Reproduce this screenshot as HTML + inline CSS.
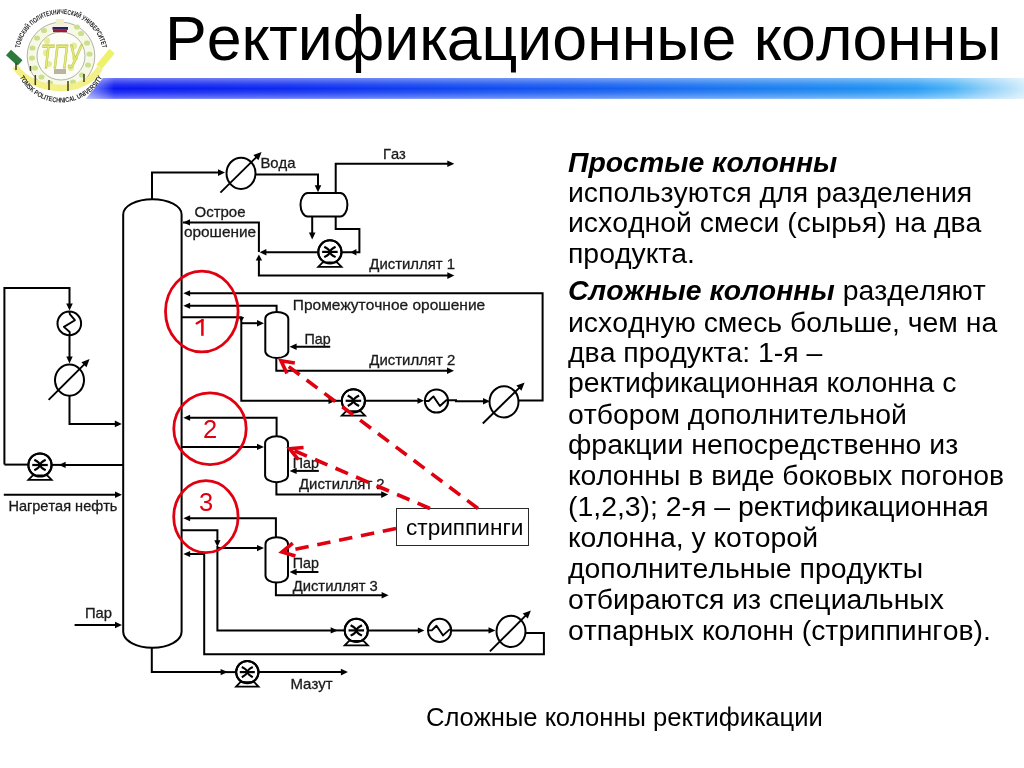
<!DOCTYPE html>
<html lang="ru"><head><meta charset="utf-8"><title>Ректификационные колонны</title>
<style>
html,body{margin:0;padding:0;background:#fff;}
body{width:1024px;height:768px;position:relative;overflow:hidden;font-family:"Liberation Sans",sans-serif;color:#000;font-kerning:none;}
.abs{position:absolute;will-change:transform;}
.logo{position:absolute;left:0;top:0;will-change:transform;}
.bar{position:absolute;left:86px;top:78px;width:938px;height:20.8px;
 background:linear-gradient(to right,#1a2cf2 0px,#0a18f0 30px,#0c2af0 200px,#1048f0 380px,#145ef0 520px,#1a78f0 650px,#1e8ef2 780px,#2c9cf4 830px,#4cb2f6 866px,#8ccef8 900px,#d0ecfa 938px);
 clip-path:polygon(17px 0,100% 0,100% 100%,0 100%);}
.bar:after{content:"";position:absolute;left:0;top:0;right:0;bottom:0;
 background:linear-gradient(to bottom,rgba(255,255,255,.42) 0%,rgba(255,255,255,.12) 30%,rgba(255,255,255,0) 50%,rgba(255,255,255,.12) 70%,rgba(255,255,255,.42) 100%);}
.barfade{position:absolute;left:86px;top:78px;width:28px;height:20.8px;background:linear-gradient(to right,rgba(255,255,255,.5),rgba(255,255,255,0));}
.title{position:absolute;will-change:transform;left:164.7px;top:6.67px;font-size:62.65px;line-height:1;white-space:nowrap;}
.rl{position:absolute;will-change:transform;left:568.0px;font-size:28.4px;line-height:1;white-space:nowrap;}
.cap{position:absolute;will-change:transform;left:425.8px;top:704.93px;font-size:25.6px;line-height:1;white-space:nowrap;}
.sbox{position:absolute;left:395.6px;top:507.9px;width:131.4px;height:36.1px;border:1.3px solid #2a2a2a;background:#fff;box-sizing:content-box;}
.stxt{position:absolute;will-change:transform;left:406.3px;top:517.47px;font-size:22.6px;line-height:1;white-space:nowrap;}
.dg{position:absolute;will-change:transform;font-size:25.5px;line-height:1;color:#e0000f;}
svg text{font-family:"Liberation Sans",sans-serif;}
</style></head>
<body>
<div class="bar"></div><div class="barfade"></div>

<svg class="logo" width="125" height="110" viewBox="0 0 125 110">
  <defs>
    <path id="arcTop" d="M 19,56 A 42,42 0 0 1 103,56"/>
    <path id="arcBot" d="M 14.5,56 A 46.5,46.5 0 0 0 107.5,56"/>
    <radialGradient id="lg" cx="50%" cy="50%" r="50%"><stop offset="0" stop-color="#fcfdf2"/><stop offset="1" stop-color="#f6f8e4"/></radialGradient>
  </defs>
  <!-- ribbon ends -->
  <path d="M 8.5,52.5 L 20,63" stroke="#2e7a3c" stroke-width="7.5" fill="none"/>
  <path d="M 99,67 L 112,51" stroke="#eef26a" stroke-width="7" fill="none"/>
  <circle cx="61" cy="56" r="33.8" fill="url(#lg)" stroke="#a0a098" stroke-width="0.8"/>
  <g fill="#cbe08a">
    <ellipse cx="32.5" cy="48" rx="3" ry="2.6"/><ellipse cx="32" cy="58" rx="3" ry="2.6"/>
    <ellipse cx="35" cy="68" rx="3" ry="2.6"/><ellipse cx="41.5" cy="77" rx="3" ry="2.6"/>
    <ellipse cx="50" cy="83" rx="3" ry="2.6"/><ellipse cx="73" cy="82" rx="3" ry="2.6"/>
    <ellipse cx="82" cy="75" rx="3" ry="2.6"/><ellipse cx="88" cy="65" rx="3" ry="2.6"/>
    <ellipse cx="89.5" cy="54" rx="3" ry="2.6"/><ellipse cx="87" cy="43" rx="3" ry="2.6"/>
    <ellipse cx="81" cy="33.5" rx="3" ry="2.6"/><ellipse cx="37" cy="38" rx="3" ry="2.6"/>
    <ellipse cx="44" cy="30.5" rx="3" ry="2.6"/><ellipse cx="77" cy="27" rx="3" ry="2.6"/>
  </g>
  <circle cx="61" cy="56" r="24" fill="#fdfdf7" stroke="#a0a098" stroke-width="0.8"/>
  <g fill="#e4ec8c" opacity="0.9">
    <ellipse cx="47" cy="41" rx="3" ry="3.4"/><ellipse cx="46" cy="53" rx="3" ry="3.4"/>
    <ellipse cx="49" cy="64" rx="3" ry="3"/><ellipse cx="74" cy="46" rx="3" ry="3.4"/>
    <ellipse cx="75" cy="58" rx="3" ry="3"/><ellipse cx="71" cy="68" rx="3" ry="3"/>
  </g>
  <!-- monogram -->
  <g transform="translate(61 68) scale(0.62 1)">
    <text x="0" y="0" font-family="Liberation Serif" font-style="italic" font-size="33" text-anchor="middle" fill="#e6ec7a" stroke="#bcc456" stroke-width="0.8">ТПУ</text>
  </g>
  <!-- lower band -->
  <path d="M 15,66.5 C 24,80 42,88 61,88 C 79,88 93,80 100,68" stroke="#f3f088" stroke-width="6.5" fill="none"/>
  <g stroke="#3e3a1c" stroke-width="1.5">
    <line x1="16" y1="63" x2="16" y2="70"/><line x1="30.5" y1="66" x2="30.5" y2="71"/>
    <line x1="35.3" y1="75" x2="35.3" y2="85"/><line x1="49" y1="80" x2="49" y2="90"/>
    <line x1="68" y1="81" x2="68" y2="91"/><line x1="84" y1="74" x2="84" y2="82"/>
  </g>
  <rect x="54" y="69" width="12" height="5" fill="#6a5a30" opacity="0.45"/>
  <!-- flag -->
  <rect x="56" y="19" width="8" height="7" fill="#eef2c4"/>
  <rect x="53" y="24.5" width="14" height="2.6" fill="#f6eeee"/>
  <rect x="52.5" y="27" width="15.5" height="2.8" fill="#26265e"/>
  <rect x="53" y="29.8" width="14" height="2.3" fill="#9c1a34"/>
  <text font-family="Liberation Serif" font-size="7" fill="#1e1e1e" font-weight="bold"><textPath href="#arcTop" startOffset="50%" text-anchor="middle" textLength="116" lengthAdjust="spacingAndGlyphs">ТОМСКИЙ ПОЛИТЕХНИЧЕСКИЙ УНИВЕРСИТЕТ</textPath></text>
  <text font-family="Liberation Serif" font-size="7" fill="#1e1e1e" font-weight="bold"><textPath href="#arcBot" startOffset="50%" text-anchor="middle" textLength="102" lengthAdjust="spacingAndGlyphs">TOMSK POLITECHNICAL UNIVERSITY</textPath></text>
</svg>

<div class="title">Ректификационные колонны</div>
<svg class="abs" style="left:0;top:0" width="1024" height="768" viewBox="0 0 1024 768">
<g stroke-linecap="butt" stroke-linejoin="miter">
<polyline points="152,199 152,172.6 220,172.6" fill="none" stroke="#000" stroke-width="2.0"/>
<polygon points="225,172.6 218,175.9 218,169.3" fill="#000"/>
<polyline points="256,174.6 318,174.6 318,186" fill="none" stroke="#000" stroke-width="2.0"/>
<polygon points="318,192.2 314.7,185.2 321.3,185.2" fill="#000"/>
<polyline points="335.7,193 335.7,163.7 448,163.7" fill="none" stroke="#000" stroke-width="2.0"/>
<polygon points="454.3,163.7 447.3,167 447.3,160.4" fill="#000"/>
<polyline points="312.2,216.5 312.2,233" fill="none" stroke="#000" stroke-width="2.0"/>
<polygon points="312.2,239.4 308.9,232.4 315.5,232.4" fill="#000"/>
<polyline points="335.7,216.5 335.7,229 359.4,229 359.4,252.2 341,252.2" fill="none" stroke="#000" stroke-width="2.0"/>
<polygon points="350.4,252.2 356.4,249 356.4,255.4" fill="#000"/>
<polyline points="318,252.2 265,252.2" fill="none" stroke="#000" stroke-width="2.0"/>
<polygon points="259.6,252.2 266.4,249 266.4,255.4" fill="#000"/>
<polyline points="183,222.4 258.9,222.4 258.9,252" fill="none" stroke="#000" stroke-width="2.0"/>
<polygon points="183.2,222.4 190,219.3 190,225.5" fill="#000"/>
<polyline points="258.9,259 258.9,275.6 448,275.6" fill="none" stroke="#000" stroke-width="2.0"/>
<polygon points="258.9,254.6 262.1,260.4 255.7,260.4" fill="#000"/>
<polygon points="454.3,275.6 447.3,278.9 447.3,272.3" fill="#000"/>
<polyline points="188,293.3 542.6,293.3 542.6,400.6 518.5,400.6" fill="none" stroke="#000" stroke-width="2.0"/>
<polygon points="183.3,293.3 190.1,290.3 190.1,296.3" fill="#000"/>
<polyline points="188,305.7 276.6,305.7 276.6,312" fill="none" stroke="#000" stroke-width="2.0"/>
<polygon points="183.3,305.7 190.1,302.7 190.1,308.7" fill="#000"/>
<polyline points="182,317.2 241.3,317.2 241.3,400.8 336,400.8" fill="none" stroke="#000" stroke-width="2.0"/>
<polygon points="241.3,322 238.5,317 244.1,317" fill="#000"/>
<polygon points="335.5,400.8 328.5,404 328.5,397.6" fill="#000"/>
<polyline points="331,400.8 342,400.8" fill="none" stroke="#000" stroke-width="2.0"/>
<polyline points="241.3,323.2 258,323.2" fill="none" stroke="#000" stroke-width="2.0"/>
<polygon points="264,323.2 257,326.4 257,320" fill="#000"/>
<polyline points="330.2,346.8 295,346.8" fill="none" stroke="#000" stroke-width="2.0"/>
<polygon points="289.6,346.8 296.6,343.6 296.6,350" fill="#000"/>
<polyline points="276.3,358 276.3,370.8 448,370.8" fill="none" stroke="#000" stroke-width="2.0"/>
<polygon points="454,370.8 447,374.1 447,367.5" fill="#000"/>
<polyline points="365,400.8 418,400.8" fill="none" stroke="#000" stroke-width="2.0"/>
<polygon points="424,400.8 417.5,403.8 417.5,397.8" fill="#000"/>
<polyline points="448.5,400.2 456,400.2 456,401.2 485,401.2" fill="none" stroke="#000" stroke-width="2.0"/>
<polygon points="490,401.2 483,404.4 483,398" fill="#000"/>
<polyline points="188,417.7 276.6,417.7 276.6,436" fill="none" stroke="#000" stroke-width="2.0"/>
<polygon points="183.3,417.7 190.1,414.7 190.1,420.7" fill="#000"/>
<polyline points="182,446.9 258,446.9" fill="none" stroke="#000" stroke-width="2.0"/>
<polygon points="264,446.9 257,450.1 257,443.7" fill="#000"/>
<polyline points="318.8,470.9 295,470.9" fill="none" stroke="#000" stroke-width="2.0"/>
<polygon points="289.6,470.9 296.6,467.7 296.6,474.1" fill="#000"/>
<polyline points="276.4,482 276.4,494.6 382,494.6" fill="none" stroke="#000" stroke-width="2.0"/>
<polygon points="388.2,494.6 381.2,497.9 381.2,491.3" fill="#000"/>
<polyline points="4.4,464.6 4.4,287.9 69.5,287.9 69.5,304" fill="none" stroke="#000" stroke-width="2.0"/>
<polygon points="69.5,310.6 66.2,303.6 72.8,303.6" fill="#000"/>
<polyline points="69.5,335 69.5,357" fill="none" stroke="#000" stroke-width="2.0"/>
<polygon points="69.5,363.6 66.3,356.6 72.7,356.6" fill="#000"/>
<polyline points="69.5,395 69.5,423.9 115,423.9" fill="none" stroke="#000" stroke-width="2.0"/>
<polygon points="121.8,423.9 114.8,427.2 114.8,420.6" fill="#000"/>
<polyline points="4.4,464.6 30,464.6" fill="none" stroke="#000" stroke-width="2.0"/>
<polyline points="123,464.9 64,464.9" fill="none" stroke="#000" stroke-width="2.0"/>
<polygon points="58.8,464.9 65.6,461.7 65.6,468.1" fill="#000"/>
<polyline points="50,464.9 62,464.9" fill="none" stroke="#000" stroke-width="2.0"/>
<polyline points="3.8,494.7 115,494.7" fill="none" stroke="#000" stroke-width="2.0"/>
<polygon points="122,494.7 115,498 115,491.4" fill="#000"/>
<polyline points="74.6,625 115,625" fill="none" stroke="#000" stroke-width="2.0"/>
<polygon points="122,625 115,628.3 115,621.7" fill="#000"/>
<polyline points="188,518.3 275.9,518.3 275.9,537" fill="none" stroke="#000" stroke-width="2.0"/>
<polygon points="183.3,518.3 190.1,515.3 190.1,521.3" fill="#000"/>
<polyline points="182,530.3 217.4,530.3 217.4,541" fill="none" stroke="#000" stroke-width="2.0"/>
<polygon points="217.4,546.9 214.3,540.3 220.5,540.3" fill="#000"/>
<polyline points="217.4,546 217.4,630.4 331,630.4" fill="none" stroke="#000" stroke-width="2.0"/>
<polygon points="337.7,630.4 330.7,633.6 330.7,627.2" fill="#000"/>
<polyline points="333,630.4 345,630.4" fill="none" stroke="#000" stroke-width="2.0"/>
<polyline points="217.4,548.1 258,548.1" fill="none" stroke="#000" stroke-width="2.0"/>
<polygon points="264,548.1 257,551.3 257,544.9" fill="#000"/>
<polyline points="188,554.1 204.2,554.1 204.2,654.2 543.9,654.2 543.9,633 525,633" fill="none" stroke="#000" stroke-width="2.0"/>
<polygon points="183.3,554.1 190.1,551.1 190.1,557.1" fill="#000"/>
<polyline points="318.4,572 295,572" fill="none" stroke="#000" stroke-width="2.0"/>
<polygon points="289.6,572 296.6,568.8 296.6,575.2" fill="#000"/>
<polyline points="275.9,583 275.9,595.3 382,595.3" fill="none" stroke="#000" stroke-width="2.0"/>
<polygon points="388.6,595.3 381.6,598.6 381.6,592" fill="#000"/>
<polyline points="368,630.4 418,630.4" fill="none" stroke="#000" stroke-width="2.0"/>
<polygon points="424.4,630.4 417.9,633.4 417.9,627.4" fill="#000"/>
<polyline points="451,630.4 489,630.4" fill="none" stroke="#000" stroke-width="2.0"/>
<polygon points="495.5,630.4 488.5,633.6 488.5,627.2" fill="#000"/>
<polyline points="151.8,648 151.8,672.1 221,672.1" fill="none" stroke="#000" stroke-width="2.0"/>
<polygon points="227.6,672.1 220.6,675.3 220.6,668.9" fill="#000"/>
<polyline points="223,672.1 236,672.1" fill="none" stroke="#000" stroke-width="2.0"/>
<polyline points="258,672.1 341,672.1" fill="none" stroke="#000" stroke-width="2.0"/>
<polygon points="347.9,672.1 340.9,675.4 340.9,668.8" fill="#000"/>
<path d="M123.2,214.5 A29.2,15.3 0 0 1 181.6,214.5 V631.8 A29.2,16 0 0 1 123.2,631.8 Z" fill="#fff" stroke="#000" stroke-width="2.0"/>
<path d="M307.7,193.1 H340.2 A7.2,11.7 0 0 1 340.2,216.5 H307.7 A7.2,11.7 0 0 1 307.7,193.1 Z" fill="#fff" stroke="#000" stroke-width="2.0"/>
<ellipse cx="241" cy="173.3" rx="14.5" ry="15.6" fill="#fff" stroke="#000" stroke-width="2.0"/>
<polyline points="220.4,192.6 257.04,156.49" fill="none" stroke="#000" stroke-width="1.9"/>
<polygon points="261.6,152 258.43,160.18 253.37,155.05" fill="#000"/>
<circle cx="329.9" cy="251.9" r="11.6" fill="#fff" stroke="#000" stroke-width="2.0"/>
<polyline points="322.13,251.9 337.67,251.9" fill="none" stroke="#000" stroke-width="2.2"/>
<path d="M324.22,246.68 Q335.02,251.9 324.22,257.12 M335.58,246.68 Q324.78,251.9 335.58,257.12" fill="none" stroke="#000" stroke-width="2.2"/>
<polygon points="322.71,262.34 337.09,262.34 341.5,266.8 318.3,266.8" fill="#fff" stroke="#000" stroke-width="1.8" stroke-linejoin="miter"/>
<circle cx="329.9" cy="251.9" r="11.6" fill="none" stroke="#000" stroke-width="2.0"/>
<path d="M265.3,318.7 A11.5,6.8 0 0 1 288.3,318.7 V351.2 A11.5,6.8 0 0 1 265.3,351.2 Z" fill="#fff" stroke="#000" stroke-width="2.0"/>
<path d="M265.1,443.1 A11.45,6.8 0 0 1 288,443.1 V475.4 A11.45,6.8 0 0 1 265.1,475.4 Z" fill="#fff" stroke="#000" stroke-width="2.0"/>
<path d="M265.5,544 A11.25,6.8 0 0 1 288,544 V575.8 A11.25,6.8 0 0 1 265.5,575.8 Z" fill="#fff" stroke="#000" stroke-width="2.0"/>
<circle cx="353.4" cy="400.8" r="11.6" fill="#fff" stroke="#000" stroke-width="2.0"/>
<polyline points="345.63,400.8 361.17,400.8" fill="none" stroke="#000" stroke-width="2.2"/>
<path d="M347.72,395.58 Q358.52,400.8 347.72,406.02 M359.08,395.58 Q348.28,400.8 359.08,406.02" fill="none" stroke="#000" stroke-width="2.2"/>
<polygon points="346.21,411.24 360.59,411.24 365,415.7 341.8,415.7" fill="#fff" stroke="#000" stroke-width="1.8" stroke-linejoin="miter"/>
<circle cx="353.4" cy="400.8" r="11.6" fill="none" stroke="#000" stroke-width="2.0"/>
<circle cx="436.5" cy="401" r="11.6" fill="#fff" stroke="#000" stroke-width="2.0"/>
<polyline points="424.9,401 428.7,401 433.4,396.4 439.9,406 446.3,400.2 448.1,400.2" fill="none" stroke="#000" stroke-width="1.9" stroke-linejoin="round"/>
<ellipse cx="504" cy="401.8" rx="14.5" ry="15.6" fill="#fff" stroke="#000" stroke-width="2.0"/>
<polyline points="482.8,423.5 520.03,387.08" fill="none" stroke="#000" stroke-width="1.9"/>
<polygon points="524.6,382.6 521.4,390.77 516.36,385.62" fill="#000"/>
<circle cx="69.3" cy="323.4" r="11.8" fill="#fff" stroke="#000" stroke-width="2.0"/>
<polyline points="69.3,311.6 70,314.4 74.9,320.2 63.9,326.9 69.7,332 69.7,335.2" fill="none" stroke="#000" stroke-width="1.9" stroke-linejoin="round"/>
<ellipse cx="69.5" cy="380.1" rx="14.5" ry="15.6" fill="#fff" stroke="#000" stroke-width="2.0"/>
<polyline points="48.6,399.8 85.06,363.61" fill="none" stroke="#000" stroke-width="1.9"/>
<polygon points="89.6,359.1 86.46,367.29 81.39,362.18" fill="#000"/>
<circle cx="40" cy="465" r="11.6" fill="#fff" stroke="#000" stroke-width="2.0"/>
<polyline points="32.23,465 47.77,465" fill="none" stroke="#000" stroke-width="2.2"/>
<path d="M34.32,459.78 Q45.12,465 34.32,470.22 M45.68,459.78 Q34.88,465 45.68,470.22" fill="none" stroke="#000" stroke-width="2.2"/>
<polygon points="32.81,475.44 47.19,475.44 51.6,479.9 28.4,479.9" fill="#fff" stroke="#000" stroke-width="1.8" stroke-linejoin="miter"/>
<circle cx="40" cy="465" r="11.6" fill="none" stroke="#000" stroke-width="2.0"/>
<circle cx="356.3" cy="630.4" r="11.6" fill="#fff" stroke="#000" stroke-width="2.0"/>
<polyline points="348.53,630.4 364.07,630.4" fill="none" stroke="#000" stroke-width="2.2"/>
<path d="M350.62,625.18 Q361.42,630.4 350.62,635.62 M361.98,625.18 Q351.18,630.4 361.98,635.62" fill="none" stroke="#000" stroke-width="2.2"/>
<polygon points="349.11,640.84 363.49,640.84 367.9,645.3 344.7,645.3" fill="#fff" stroke="#000" stroke-width="1.8" stroke-linejoin="miter"/>
<circle cx="356.3" cy="630.4" r="11.6" fill="none" stroke="#000" stroke-width="2.0"/>
<circle cx="439.6" cy="630.4" r="11.6" fill="#fff" stroke="#000" stroke-width="2.0"/>
<polyline points="428,630.4 431.8,630.4 436.5,625.8 443,635.4 449.4,629.6 451.2,629.6" fill="none" stroke="#000" stroke-width="1.9" stroke-linejoin="round"/>
<ellipse cx="511" cy="631.4" rx="14.5" ry="15.6" fill="#fff" stroke="#000" stroke-width="2.0"/>
<polyline points="489.9,651.4 526.37,614.93" fill="none" stroke="#000" stroke-width="1.9"/>
<polygon points="530.9,610.4 527.79,618.6 522.7,613.51" fill="#000"/>
<circle cx="247.3" cy="672.1" r="11.2" fill="#fff" stroke="#000" stroke-width="2.0"/>
<polyline points="239.8,672.1 254.8,672.1" fill="none" stroke="#000" stroke-width="2.2"/>
<path d="M241.81,667.06 Q252.24,672.1 241.81,677.14 M252.79,667.06 Q242.36,672.1 252.79,677.14" fill="none" stroke="#000" stroke-width="2.2"/>
<polygon points="240.36,682.18 254.24,682.18 258.5,686.6 236.1,686.6" fill="#fff" stroke="#000" stroke-width="1.8" stroke-linejoin="miter"/>
<circle cx="247.3" cy="672.1" r="11.2" fill="none" stroke="#000" stroke-width="2.0"/>
</g>
<g>
<text x="260.4" y="168.2" font-size="14.9" text-anchor="start" fill="#1a1a1a" stroke="#1a1a1a" stroke-width="0.3" transform="translate(0 168.2) scale(1 0.96) translate(0 -168.2)">Вода</text><text x="383" y="159" font-size="14.7" text-anchor="start" fill="#1a1a1a" stroke="#1a1a1a" stroke-width="0.3" transform="translate(0 159) scale(1 0.96) translate(0 -159)">Газ</text><text x="194.5" y="217.2" font-size="15" text-anchor="start" fill="#1a1a1a" stroke="#1a1a1a" stroke-width="0.3" transform="translate(0 217.2) scale(1 0.96) translate(0 -217.2)">Острое</text><text x="183.9" y="237.4" font-size="15.4" text-anchor="start" fill="#1a1a1a" stroke="#1a1a1a" stroke-width="0.3" transform="translate(0 237.4) scale(1 0.96) translate(0 -237.4)">орошение</text><text x="369.3" y="268.8" font-size="14.9" text-anchor="start" fill="#1a1a1a" stroke="#1a1a1a" stroke-width="0.3" transform="translate(0 268.8) scale(1 0.96) translate(0 -268.8)">Дистиллят 1</text><text x="292.8" y="310.2" font-size="15.5" text-anchor="start" fill="#1a1a1a" stroke="#1a1a1a" stroke-width="0.3" transform="translate(0 310.2) scale(1 0.96) translate(0 -310.2)">Промежуточное орошение</text><text x="304.6" y="343.8" font-size="14.3" text-anchor="start" fill="#1a1a1a" stroke="#1a1a1a" stroke-width="0.3" transform="translate(0 343.8) scale(1 0.96) translate(0 -343.8)">Пар</text><text x="369.3" y="364.8" font-size="14.95" text-anchor="start" fill="#1a1a1a" stroke="#1a1a1a" stroke-width="0.3" transform="translate(0 364.8) scale(1 0.96) translate(0 -364.8)">Дистиллят 2</text><text x="292.7" y="468.2" font-size="14.3" text-anchor="start" fill="#1a1a1a" stroke="#1a1a1a" stroke-width="0.3" transform="translate(0 468.2) scale(1 0.96) translate(0 -468.2)">Пар</text><text x="299" y="489.2" font-size="14.9" text-anchor="start" fill="#1a1a1a" stroke="#1a1a1a" stroke-width="0.3" transform="translate(0 489.2) scale(1 0.96) translate(0 -489.2)">Дистиллят 2</text><text x="292.8" y="567.8" font-size="14.3" text-anchor="start" fill="#1a1a1a" stroke="#1a1a1a" stroke-width="0.3" transform="translate(0 567.8) scale(1 0.96) translate(0 -567.8)">Пар</text><text x="292.7" y="591.2" font-size="14.8" text-anchor="start" fill="#1a1a1a" stroke="#1a1a1a" stroke-width="0.3" transform="translate(0 591.2) scale(1 0.96) translate(0 -591.2)">Дистиллят 3</text><text x="8.4" y="511.2" font-size="14.55" text-anchor="start" fill="#1a1a1a" stroke="#1a1a1a" stroke-width="0.3" transform="translate(0 511.2) scale(1 0.96) translate(0 -511.2)">Нагретая нефть</text><text x="84.9" y="617.6" font-size="14.8" text-anchor="start" fill="#1a1a1a" stroke="#1a1a1a" stroke-width="0.3" transform="translate(0 617.6) scale(1 0.96) translate(0 -617.6)">Пар</text><text x="290.6" y="688.8" font-size="15" text-anchor="start" fill="#1a1a1a" stroke="#1a1a1a" stroke-width="0.3" transform="translate(0 688.8) scale(1 0.96) translate(0 -688.8)">Мазут</text>
</g>
</svg>
<div class="sbox"></div>
<div class="stxt">стриппинги</div>
<div class="dg" style="left:202.6px;top:417.21px">2</div><div class="dg" style="left:198.7px;top:489.81px">3</div>
<svg class="abs" style="left:0;top:0" width="1024" height="768" viewBox="0 0 1024 768">
<ellipse cx="201.8" cy="311.5" rx="36.3" ry="40.4" fill="none" stroke="#e0000f" stroke-width="2.8"/>
<ellipse cx="210.0" cy="428.7" rx="36.2" ry="35.9" fill="none" stroke="#e0000f" stroke-width="2.8"/>
<ellipse cx="205.9" cy="516.7" rx="32.2" ry="36.0" fill="none" stroke="#e0000f" stroke-width="2.8"/>
<line x1="478" y1="508.5" x2="281" y2="360.8" stroke="#e0000f" stroke-width="3.6" stroke-dasharray="13.5 8.8"/>
<polyline points="294.83,362.96 281,360.8 286.95,373.47" fill="none" stroke="#e0000f" stroke-width="3.6" stroke-linejoin="miter"/>
<line x1="430" y1="508.5" x2="289.6" y2="448.7" stroke="#e0000f" stroke-width="3.6" stroke-dasharray="13.5 8.8"/>
<polyline points="303.55,447.5 289.6,448.7 298.4,459.59" fill="none" stroke="#e0000f" stroke-width="3.6" stroke-linejoin="miter"/>
<line x1="396" y1="528.6" x2="282" y2="552" stroke="#e0000f" stroke-width="3.6" stroke-dasharray="13.5 8.8"/>
<polyline points="292.79,543.08 282,552 295.43,555.95" fill="none" stroke="#e0000f" stroke-width="3.6" stroke-linejoin="miter"/>
<line x1="202.4" y1="319.2" x2="202.4" y2="335.8" stroke="#e0000f" stroke-width="2.5"/>
<line x1="202.6" y1="320" x2="196.6" y2="323.4" stroke="#e0000f" stroke-width="2.3" stroke-linecap="round"/>
</svg>
<div class="rl" style="top:147.56px"><b><i>Простые колонны</i></b></div>
<div class="rl" style="top:177.76px">используются для разделения</div>
<div class="rl" style="top:208.06px">исходной смеси (сырья) на два</div>
<div class="rl" style="top:238.66px">продукта.</div>
<div class="rl" style="top:276.16px"><b><i>Сложные колонны</i></b> разделяют</div>
<div class="rl" style="top:307.56px">исходную смесь больше, чем на</div>
<div class="rl" style="top:337.56px">два продукта: 1-я –</div>
<div class="rl" style="top:368.26px">ректификационная колонна с</div>
<div class="rl" style="top:399.76px">отбором дополнительной</div>
<div class="rl" style="top:430.36px">фракции непосредственно из</div>
<div class="rl" style="top:460.96px">колонны в виде боковых погонов</div>
<div class="rl" style="top:491.96px">(1,2,3); 2-я – ректификационная</div>
<div class="rl" style="top:523.36px">колонна, у которой</div>
<div class="rl" style="top:554.36px">дополнительные продукты</div>
<div class="rl" style="top:584.96px">отбираются из специальных</div>
<div class="rl" style="top:615.56px">отпарных колонн (стриппингов).</div>
<div class="cap">Сложные колонны ректификации</div>
</body></html>
